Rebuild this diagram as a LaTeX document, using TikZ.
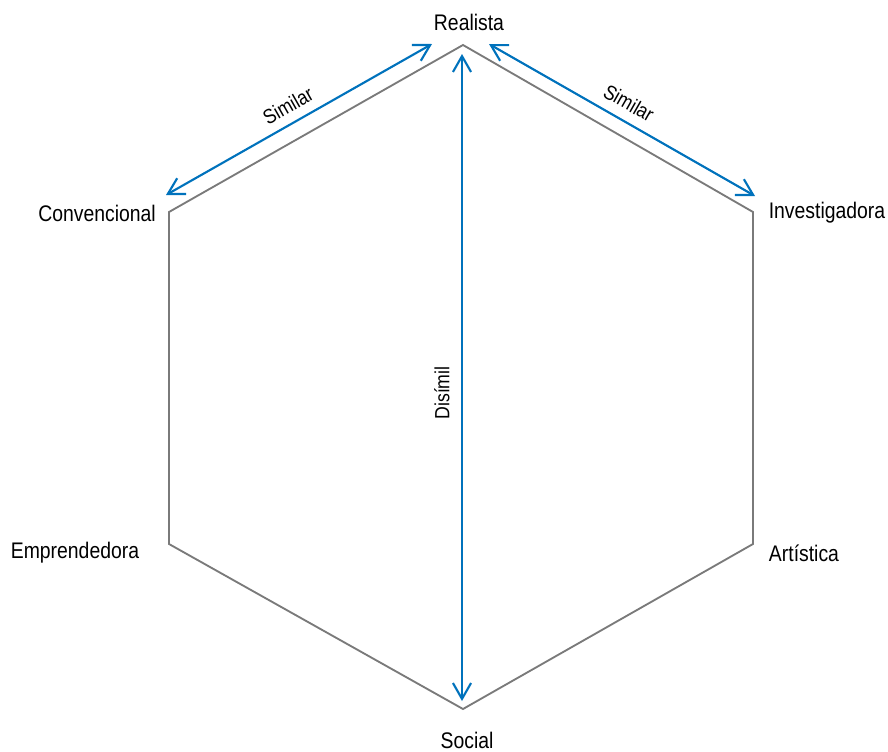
\documentclass[tikz,border=0pt]{standalone}
\usepackage{fontspec}
\setmainfont[FakeStretch=0.86]{Liberation Sans}
\usetikzlibrary{arrows.meta}
\definecolor{hexgray}{RGB}{122,122,122}
\definecolor{relblue}{RGB}{0,114,188}
\begin{document}
\begin{tikzpicture}[
        x=0.0265cm, y=-0.0265cm,
        side/.style={draw=hexgray, line width=1.4pt},
        relation/.style={draw=relblue, line width=1.6pt,
            {Straight Barb[length=4.2mm, width=4.8mm, line width=1.6pt]}-{Straight Barb[length=4.2mm, width=4.8mm, line width=1.6pt]}},
        type/.style={font=\fontsize{17}{19}\selectfont, inner sep=0pt},
        tag/.style={font=\fontsize{15.5}{17}\selectfont, inner sep=0pt}
    ]
    \useasboundingbox (0,0) rectangle (888,752);

    % Hexagon corners
    \foreach \name/\x/\y in {r/463/45, i/753/212, a/753/544, s/463/709, e/169/544, c/169/212}
        \coordinate (\name) at (\x,\y);
    \draw[side] (r) -- (i) -- (a) -- (s) -- (e) -- (c) -- cycle;

    % Type labels
    \node[type] (realista) at (469,22) {Realista};
    \node[type] (investigadora) at (827,213) {Investigadora};
    \node[type] (artistica) at (804,553) {Artística};
    \node[type] (social) at (467,740) {Social};
    \node[type] (emprendedora) at (75,553) {Emprendedora};
    \node[type] (convencional) at (97,213) {Convencional};

    % Arrow ends
    \coordinate (l1) at (432,44);
    \coordinate (l2) at (166,195);
    \coordinate (r1) at (489,44);
    \coordinate (r2) at (755,196);
    \coordinate (v1) at (462,54);
    \coordinate (v2) at (462,701);

    % Relations
    \draw[relation] (l1) -- (l2);
    \draw[relation] (r1) -- (r2);
    \draw[relation] (v1) -- (v2);
    \node[tag, rotate=29.6] (simleft) at (288,106) {Similar};
    \node[tag, rotate=-29.6] (simright) at (629,103) {Similar};
    \node[tag, rotate=90] (disimil) at (442,393) {Disímil};

\end{tikzpicture}
\end{document}
